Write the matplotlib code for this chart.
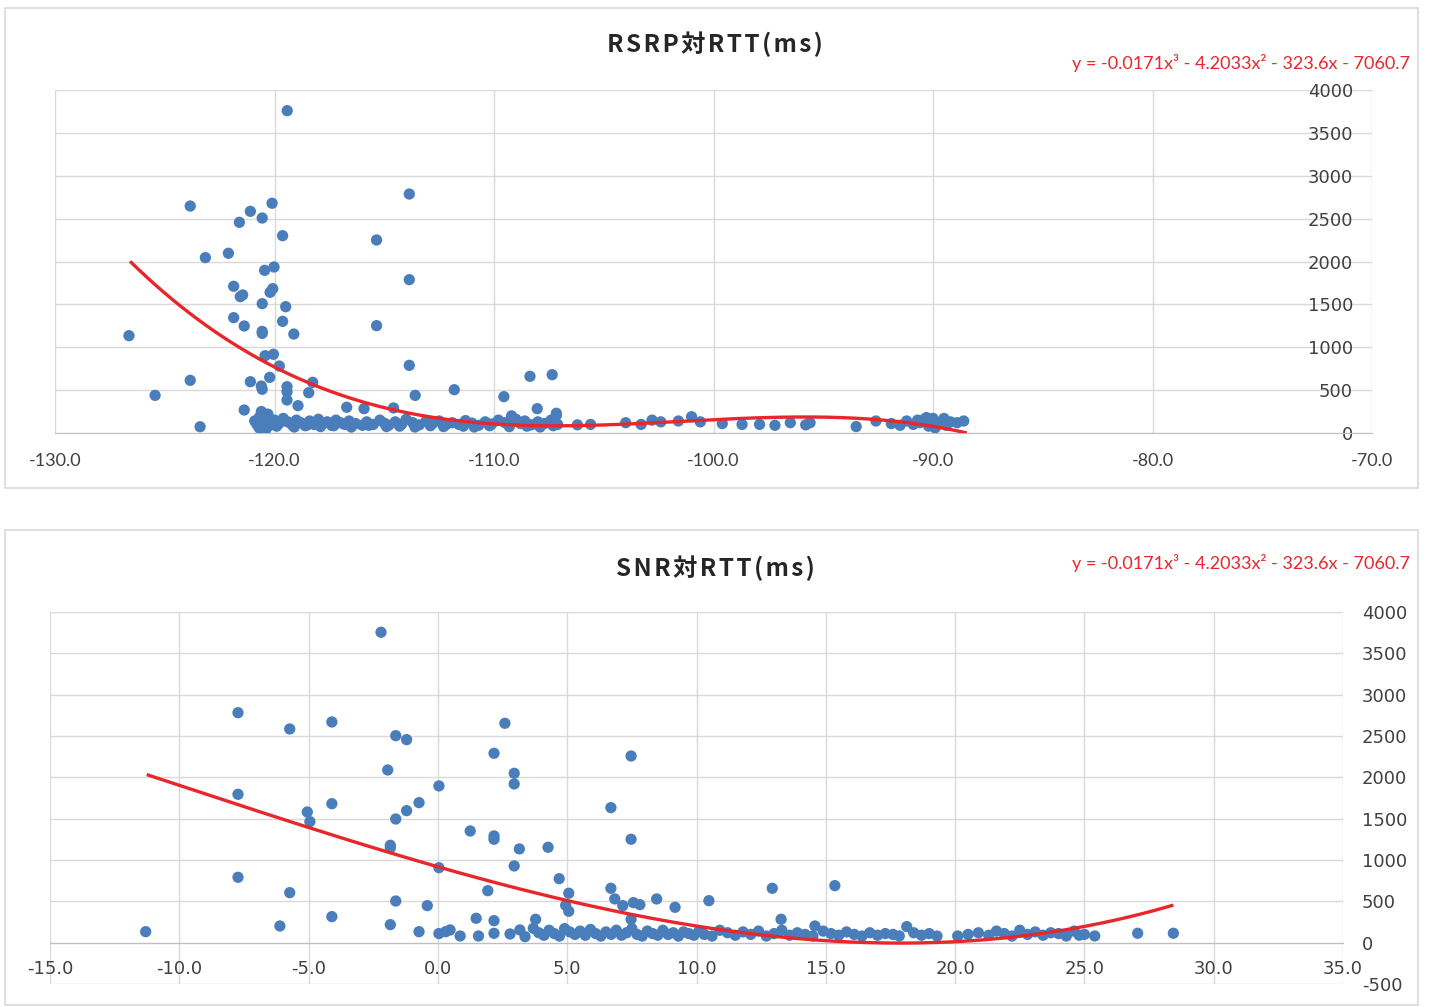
import numpy as np
import matplotlib
matplotlib.use('Agg')
import matplotlib.pyplot as plt
from matplotlib.patches import Rectangle
from matplotlib.ticker import FuncFormatter

# ---------------- DATA ----------------
# Top chart: RSRP vs RTT(ms)
rsrp_x = [-119.42, -123.84, -120.11, -121.10, -120.56, -121.60, -119.63, -123.15, -122.10,
          -120.45, -120.02, -121.86, -121.56, -121.45, -120.20, -120.08, -120.56, -119.49,
          -121.86, -121.38, -119.63, -120.56, -120.56, -119.12, -126.63, -120.43, -120.05,
          -119.78, -123.84, -120.22, -121.10, -125.44, -120.60, -120.56, -119.43, -119.43,
          -119.43, -118.26, -118.44, -118.93, -116.71, -121.38, -123.39,
          -113.86, -115.35, -113.86, -115.35, -113.86, -113.59, -111.81, -108.36, -107.35,
          -109.55, -108.03, -107.16, -107.16, -115.92, -114.58,
          -120.9, -120.7, -120.5, -120.4, -120.2, -120.0, -119.8, -119.6, -119.4, -119.2,
          -119.0, -118.8, -118.6, -118.4, -118.2, -118.0, -117.8, -117.6, -117.4, -117.2,
          -117.0, -116.8, -116.6, -116.3, -116.0, -115.8, -115.5, -115.2, -115.0, -114.8,
          -114.5, -114.2, -114.0, -113.7, -113.4, -113.1, -112.8, -112.5, -112.2, -111.9,
          -111.6, -111.3, -111.0, -110.7, -110.4, -110.1, -109.8, -109.5, -109.2, -109.0,
          -108.8, -108.6, -108.3, -108.0, -107.7, -107.4, -107.1,
          -120.6, -120.3, -120.7, -120.4, -120.8, -120.1,
          -119.9, -119.1, -118.5, -117.9, -117.3, -116.5, -115.7, -114.9, -114.3, -113.6,
          -112.9, -112.3, -111.4, -110.9, -110.2, -109.3, -108.5, -107.9, -107.3,
          -106.2, -105.6, -104.0, -103.3, -102.8, -102.4, -101.6, -101.0, -100.6, -99.6,
          -98.7, -97.9, -97.2, -96.5, -95.8, -95.6, -93.5, -92.6, -91.9, -91.5, -91.2,
          -90.9, -90.6, -90.4, -90.2, -90.0, -89.8, -89.6, -89.4, -89.2, -88.9, -88.6,
          -90.7, -90.3, -89.9, -89.5]
rsrp_y = [3759, 2647, 2679, 2585, 2507, 2457, 2301, 2045, 2096,
          1897, 1936, 1711, 1590, 1610, 1641, 1683, 1508, 1473,
          1345, 1248, 1302, 1162, 1185, 1154, 1135, 901, 918,
          781, 614, 649, 598, 439, 548, 510, 540, 482,
          385, 591, 470, 319, 300, 268, 73,
          2787, 2251, 1788, 1252, 789, 439, 505, 661, 680,
          424, 284, 206, 230, 284, 292,
          140, 180, 120, 200, 90, 150, 110, 170, 130, 95,
          150, 120, 85, 140, 100, 160, 110, 130, 90, 150,
          120, 100, 140, 110, 90, 130, 100, 150, 115, 90,
          130, 105, 160, 120, 95, 135, 110, 140, 95, 120,
          100, 145, 115, 90, 130, 105, 150, 120, 200, 160,
          110, 140, 95, 130, 110, 150, 100,
          250, 220, 60, 40, 100, 130,
          80, 70, 95, 75, 85, 70, 90, 75, 80, 70,
          85, 75, 80, 70, 85, 75, 80, 70, 85,
          95, 100, 120, 100, 150, 130, 140, 190, 130, 110,
          100, 100, 90, 120, 95, 120, 75, 140, 110, 90, 140,
          100, 120, 160, 80, 170, 110, 140, 90, 130, 120, 140,
          150, 180, 60, 170]
rsrp_trend_x = [-126.58, -123.39, -120.36, -118.23, -116.10, -113.98, -110.03, -106.39,
                -103.35, -100.00, -95.76, -92.26, -89.99, -88.46]
rsrp_trend_y = [1994, 1318, 813, 579, 346, 248, 113, 73, 105, 160, 198, 152, 66, 4]

# Bottom chart: SNR vs RTT(ms)
snr_x = [-2.20, -7.73, -5.73, -4.10, -1.63, -1.21, -1.94, 0.04, -7.73, -5.05, -4.95, -4.10,
         -1.21, -0.73, -1.63, -1.84, -1.84, 0.04, -7.73, -5.73, -1.63, -0.41, -4.10, -6.11,
         -1.84, -0.73, -11.30, 0.04, 0.30,
         2.59, 2.17, 2.95, 2.95, 7.47, 6.69, 1.25, 2.17, 2.17, 3.15, 4.26, 7.47, 2.95, 4.69,
         5.06, 1.93, 6.69, 6.84, 7.15, 7.56, 7.81, 8.46, 9.17, 10.48, 4.94, 5.06, 1.48, 2.17,
         3.78, 7.47, 12.93, 15.35, 13.27, 14.58, 27.06, 28.44, 0.47, 0.86, 1.57, 2.17, 2.79,
         3.17, 3.37, 3.69,
         3.9, 4.1, 4.3, 4.5, 4.7, 4.9, 5.1, 5.3, 5.5, 5.7, 5.9, 6.1, 6.3, 6.5, 6.7, 6.9,
         7.1, 7.3, 7.5, 7.7, 7.9, 8.1, 8.3, 8.5, 8.7, 8.9, 9.1, 9.3, 9.5, 9.7, 9.9, 10.1,
         10.3, 10.6, 10.9, 11.2, 11.5, 11.8, 12.1, 12.4, 12.7, 13.0, 13.3, 13.6, 13.9, 14.2,
         14.5, 14.9, 15.2, 15.5, 15.8, 16.1, 16.4, 16.7, 17.0, 17.3, 17.6, 17.84, 18.13,
         18.4, 18.7, 19.0, 19.3,
         20.1, 20.5, 20.9, 21.3, 21.6, 21.9, 22.2, 22.5, 22.8, 23.1, 23.4, 23.7, 24.0, 24.3,
         24.6, 24.8, 25.0, 25.4]
snr_y = [3755, 2782, 2585, 2670, 2504, 2456, 2089, 1896, 1795, 1581, 1464, 1681,
         1597, 1694, 1496, 1178, 1146, 907, 791, 605, 504, 448, 315, 202,
         218, 133, 133, 110, 133,
         2654, 2291, 2049, 1920, 2258, 1633, 1351, 1291, 1251, 1134, 1154, 1251, 928, 774,
         598, 629, 658, 529, 448, 484, 460, 529, 428, 508, 452, 380, 295, 266,
         283, 283, 658, 690, 283, 202, 114, 114, 154, 81, 81, 113, 105,
         154, 73, 174,
         120, 90, 150, 110, 80, 170, 130, 100, 140, 90, 160, 110, 80, 130, 100, 150,
         90, 120, 170, 100, 80, 140, 110, 90, 150, 100, 120, 80, 130, 110, 90, 140,
         100, 80, 150, 120, 90, 130, 100, 140, 80, 110, 150, 90, 120, 100,
         80, 140, 110, 90, 130, 100, 80, 120, 90, 110, 100, 81, 194,
         120, 90, 110, 80,
         81, 100, 120, 90, 140, 110, 80, 150, 100, 130, 90, 120, 110, 80,
         140, 90, 100, 81]
snr_trend_x = [-11.26, -7.65, -5.01, -1.85, 0.34, 4.98, 10.14, 10.91, 14.90, 17.87,
               19.93, 24.31, 28.44]
snr_trend_y = [2029, 1666, 1403, 1081, 879, 517, 194, 154, 33, -7, 12, 154, 456]

equation_text = "y = -0.0171x³ - 4.2033x² - 323.6x - 7060.7"
titles = ["RSRP対RTT(ms)", "SNR対RTT(ms)"]

# ---------------- STYLE ----------------
W, H = 1430, 1007
DOT = '#4A7EBB'
RED = '#E8262B'
GRID = '#D9D9D9'
TXT = '#404040'
TICKFONT = 'Lato'
CJK = ['Noto Sans CJK JP', 'DejaVu Sans']

fig = plt.figure(figsize=(W / 100, H / 100), dpi=100)


def fx(px):
    return px / W


def fy(py):
    return 1 - py / H


# panel frames
for (x0, y0, x1, y1) in [(5, 8, 1418, 488), (5, 530, 1418, 1005)]:
    fig.patches.append(Rectangle((fx(x0), fy(y1)), fx(x1) - fx(x0), fy(y0) - fy(y1),
                                 transform=fig.transFigure, fill=False, ec=GRID, lw=1.2))


def style_axes(ax, xlim, ylim, xticks, yticks):
    ax.set_xlim(*xlim)
    ax.set_ylim(*ylim)
    ax.set_xticks(xticks)
    ax.set_yticks(yticks)
    ax.grid(True, color=GRID, lw=1)
    ax.set_axisbelow(True)
    for s in ['left', 'right', 'top']:
        ax.spines[s].set_visible(False)
    ax.spines['bottom'].set_color('#BFBFBF')
    ax.xaxis.set_major_formatter(FuncFormatter(lambda v, p: f"{v:.1f}"))
    ax.yaxis.set_major_formatter(FuncFormatter(lambda v, p: f"{int(round(v))}"))
    ax.tick_params(length=0, labelsize=13, labelcolor=TXT)
    for lab in ax.get_xticklabels() + ax.get_yticklabels():
        lab.set_family(TICKFONT)


def draw_trend(ax, tx, ty):
    coef = np.polyfit(tx, ty, 3)
    xs = np.linspace(min(tx), max(tx), 300)
    ax.plot(xs, np.polyval(coef, xs), color=RED, lw=2.4, zorder=4, solid_capstyle='butt')


# ---- top chart ----
ax1 = fig.add_axes([fx(55), fy(433), fx(1372) - fx(55), (433 - 90) / H])
style_axes(ax1, (-130, -70), (0, 4000), np.arange(-130, -69, 10), np.arange(0, 4001, 500))
ax1.yaxis.tick_right()
ax1.tick_params(axis='y', pad=-13.7)
ax1.tick_params(axis='x', pad=14.5)
for lab in ax1.get_yticklabels():
    lab.set_horizontalalignment('right')
ax1.scatter(rsrp_x, rsrp_y, s=66, color=DOT, edgecolors='none', zorder=3)
draw_trend(ax1, rsrp_trend_x, rsrp_trend_y)

# ---- bottom chart ----
ax2 = fig.add_axes([fx(50), fy(984), fx(1343) - fx(50), (984 - 612) / H])
style_axes(ax2, (-15, 35), (-500, 4000), np.arange(-15, 36, 5), np.arange(-500, 4001, 500))
ax2.spines['bottom'].set_position(('data', 0))
ax2.yaxis.tick_right()
ax2.tick_params(axis='y', pad=13.7)
ax2.tick_params(axis='x', pad=12.5)
ax2.scatter(snr_x, snr_y, s=66, color=DOT, edgecolors='none', zorder=3)
draw_trend(ax2, snr_trend_x, snr_trend_y)

# titles and equations
HS = '\u200a'
for ty, title, ey in [(44, titles[0], 63), (568, titles[1], 563)]:
    fig.text(0.5, fy(ty), HS.join(title), ha='center', va='center', fontsize=17.5,
             fontweight='bold', family=CJK, color='#262626')
    fig.text(fx(1410), fy(ey), equation_text, ha='right', va='center', fontsize=13,
             family=TICKFONT, color=RED)

fig.savefig('out.png', dpi=100)
